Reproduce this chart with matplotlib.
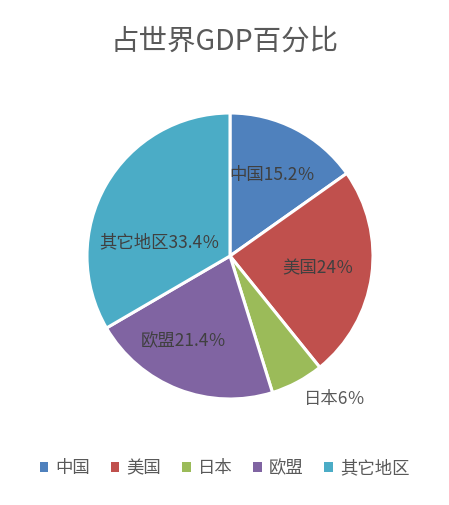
import matplotlib
matplotlib.use("Agg")
import matplotlib.pyplot as plt
from matplotlib.patches import Patch
import numpy as np

plt.rcParams['font.family'] = ['Noto Sans CJK SC', 'DejaVu Sans']

categories = ['中国', '美国', '日本', '欧盟', '其它地区']
values = [15.2, 24, 6, 21.4, 33.4]
value_labels = ['15.2', '24', '6', '21.4', '33.4']
colors = ['#4F81BD', '#C0504D', '#9BBB59', '#8064A2', '#4BACC6']
title = '占世界GDP百分比'

# label placement (radius fraction, angle offset deg)
label_r = [0.64, 0.62, 1.24, 0.68, 0.50]
label_da = [0, 0, 8, -7, 19]

fig = plt.figure(figsize=(4.49, 5.05), dpi=100)
ax = fig.add_axes([87/449, 106/505, 286/449, 286/505])
wedges, _ = ax.pie(values, colors=colors, startangle=90, counterclock=False,
                   wedgeprops=dict(edgecolor='white', linewidth=2.2))
ax.set_xlim(-1, 1)
ax.set_ylim(-1, 1)
ax.set_aspect('equal')
ax.axis('off')

for w, cat, vl, r, da in zip(wedges, categories, value_labels, label_r, label_da):
    ang = np.deg2rad((w.theta1 + w.theta2) / 2 + da)
    x, y = r * np.cos(ang), r * np.sin(ang)
    col = '#595959' if r > 1 else '#404040'
    ax.text(x, y, f'{cat}{vl}％', ha='center', va='center', fontsize=12.5,
            color=col, fontweight='light')

fig.text(0.5, 1 - 42/505, title, ha='center', va='center', fontsize=20.5,
         color='#595959', fontweight='light')

handles = [Patch(facecolor=c, edgecolor='none') for c in colors]
fig.legend(handles, categories, loc='center', bbox_to_anchor=(0.5, 1 - 468/505),
           ncol=5, frameon=False, fontsize=12.5, handlelength=0.5, handleheight=0.5,
           handletextpad=0.4, columnspacing=1.2, labelcolor='#595959')

fig.savefig('out.png', dpi=100, facecolor='white')
